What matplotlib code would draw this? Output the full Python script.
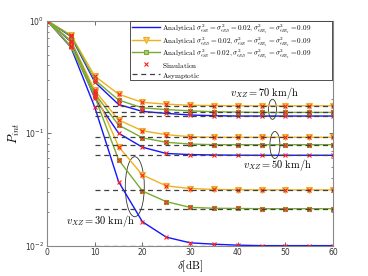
import matplotlib
matplotlib.use("Agg")
import matplotlib.pyplot as plt
from matplotlib.patches import Ellipse, Rectangle
from matplotlib.transforms import ScaledTranslation
import numpy as np

plt.rcParams['mathtext.fontset'] = 'cm'
plt.rcParams['font.family'] = ['DejaVu Sans']

delta = [0, 5, 10, 15, 20, 25, 30, 35, 40, 45, 50, 55, 60]

# 70 km/h
blue70 = [1.0, 0.725, 0.285, 0.180, 0.156, 0.150, 0.145, 0.143, 0.142, 0.142, 0.142, 0.142, 0.142]
orange70 = [1.0, 0.745, 0.322, 0.222, 0.188, 0.181, 0.177, 0.176, 0.175, 0.175, 0.175, 0.175, 0.175]
green70 = [1.0, 0.735, 0.298, 0.197, 0.168, 0.162, 0.158, 0.155, 0.154, 0.153, 0.153, 0.153, 0.153]
# 50 km/h
blue50 = [1.0, 0.650, 0.205, 0.100, 0.075, 0.066, 0.0645, 0.064, 0.0637, 0.0636, 0.0636, 0.0636, 0.0636]
orange50 = [1.0, 0.665, 0.240, 0.131, 0.105, 0.097, 0.093, 0.092, 0.092, 0.092, 0.092, 0.092, 0.092]
green50 = [1.0, 0.660, 0.225, 0.118, 0.091, 0.083, 0.080, 0.079, 0.079, 0.079, 0.079, 0.079, 0.079]
# 30 km/h
blue30 = [1.0, 0.580, 0.170, 0.037, 0.0163, 0.0119, 0.0106, 0.0103, 0.0101, 0.0100, 0.0100, 0.0100, 0.0100]
orange30 = [1.0, 0.595, 0.232, 0.076, 0.0425, 0.034, 0.0322, 0.0316, 0.0314, 0.0313, 0.0313, 0.0313, 0.0313]
green30 = [1.0, 0.590, 0.212, 0.058, 0.0306, 0.0246, 0.0219, 0.0215, 0.0214, 0.0213, 0.0213, 0.0213, 0.0213]

asym_x = [10, 60]
asym_levels = [0.175, 0.153, 0.142, 0.092, 0.079, 0.0636, 0.0313, 0.0213, 0.0100]

xticks = [0, 10, 20, 30, 40, 50, 60]
yticks = [0.01, 0.1, 1.0]
yticklabels = [r'$10^{-2}$', r'$10^{-1}$', r'$10^{0}$']

labels = [
    r'$\mathrm{Analytical}\ \sigma^2_{\epsilon_{SR}}=\sigma^2_{\epsilon_{RD}}=0.02,\sigma^2_{\epsilon_{RR_1}}=\sigma^2_{\epsilon_{RR_2}}=0.09$',
    r'$\mathrm{Analytical}\ \sigma^2_{\epsilon_{RD}}=0.02,\sigma^2_{\epsilon_{SR}}=\sigma^2_{\epsilon_{RR_1}}=\sigma^2_{\epsilon_{RR_2}}=0.09$',
    r'$\mathrm{Analytical}\ \sigma^2_{\epsilon_{SR}}=0.02,\sigma^2_{\epsilon_{RD}}=\sigma^2_{\epsilon_{RR_1}}=\sigma^2_{\epsilon_{RR_2}}=0.09$',
    r'$\mathrm{Simulation}$',
    r'$\mathrm{Asymptotic}$',
]

BLUE = '#1414ff'
ORANGE = '#EDB120'
GREEN = '#77AC30'
RED = '#ff2020'
DARK = '#404040'

blue_style = dict(color=BLUE, lw=1.0)
orange_style = dict(color=ORANGE, lw=1.0, marker='v', ms=4, mfc='#f7c964', mec=ORANGE, mew=0.8)
green_style = dict(color=GREEN, lw=1.0, marker='s', ms=3.5, mfc='#b0c880', mec=GREEN, mew=0.8)
sim_style = dict(color=RED, ls='none', marker='x', ms=3.5, mew=0.8)
asym_style = dict(color=DARK, lw=0.9, ls='--', dashes=(4, 3))

fig = plt.figure(figsize=(3.68, 2.76), dpi=100)
ax = fig.add_axes([0.128, 0.110, 0.777, 0.815])

for ys in [blue70, blue50, blue30]:
    ax.plot(delta, ys, **blue_style)
for ys in [orange70, orange50, orange30]:
    ax.plot(delta, ys, **orange_style)
for ys in [green70, green50, green30]:
    ax.plot(delta, ys, **green_style)
for ys in [blue70, orange70, green70, blue50, orange50, green50, blue30, orange30, green30]:
    ax.plot(delta, ys, **sim_style)
for lv in asym_levels:
    ax.plot(asym_x, [lv, lv], **asym_style)

ax.set_yscale('log')
ax.set_xlim(0, 60)
ax.set_ylim(0.01, 1.0)
ax.set_xticks(xticks)
ax.set_xticklabels([str(t) for t in xticks])
ax.set_yticks(yticks)
ax.set_yticklabels(yticklabels, math_fontfamily='dejavusans')
ax.tick_params(which='both', direction='in', top=True, right=True, labelsize=5.5,
               color='#555555', labelcolor='#333333', pad=2)
ax.tick_params(which='major', length=3, width=0.6)
ax.tick_params(which='minor', length=1.5, width=0.5)
for s in ax.spines.values():
    s.set_color('#888888')
    s.set_linewidth(0.8)

ax.set_xlabel(r'$\delta[\mathrm{dB}]$', fontsize=8, labelpad=1)
ax.set_ylabel(r'$P_{int}$', fontsize=9, labelpad=2)

# annotations
def ell(xc, yc, w, h):
    tr = fig.dpi_scale_trans + ScaledTranslation(xc, yc, ax.transData)
    e = Ellipse((0, 0), w / 100, h / 100, transform=tr, fill=False, color='#333333', lw=0.6)
    ax.add_patch(e)

ell(47.3, 0.163, 8, 20)
ell(47.8, 0.0785, 10, 27)
ell(18.4, 0.0334, 19, 60)

ax.text(45.5, 0.228, r'$v_{XZ}=70\ \mathrm{km/h}$', fontsize=7.5, ha='center', va='center')
ax.text(48.4, 0.052, r'$v_{XZ}=50\ \mathrm{km/h}$', fontsize=7.5, ha='center', va='center')
ax.text(11.1, 0.0164, r'$v_{XZ}=30\ \mathrm{km/h}$', fontsize=7.5, ha='center', va='center')

# legend (compact, laid out in axes fraction)
T = ax.transAxes
lx0, lx1, ly0, ly1 = 0.289, 0.997, 0.737, 0.997
ax.add_patch(Rectangle((lx0, ly0), lx1 - lx0, ly1 - ly0, transform=T, facecolor='white',
                       edgecolor='#333333', lw=0.6, zorder=10, clip_on=False))
rows_y = [0.972, 0.916, 0.861, 0.806, 0.762]
styles = [blue_style, orange_style, green_style, sim_style, asym_style]
hx0, hx1 = 0.298, 0.395
for yr, st, lab in zip(rows_y, styles, labels):
    if st is sim_style:
        ax.plot([(hx0 + hx1) / 2], [yr], transform=T, zorder=11, clip_on=False, **st)
    elif 'marker' in st:
        s2 = dict(st)
        s2.pop('marker')
        ax.plot([hx0, hx1], [yr, yr], transform=T, zorder=11, clip_on=False, **s2)
        ax.plot([(hx0 + hx1) / 2], [yr], transform=T, zorder=11, clip_on=False, ls='none',
                marker=st['marker'], ms=st['ms'], mfc=st['mfc'], mec=st['mec'], mew=st['mew'])
    else:
        ax.plot([hx0, hx1], [yr, yr], transform=T, zorder=11, clip_on=False, **st)
    ax.text(0.402, yr, lab, transform=T, fontsize=5.2, ha='left', va='center_baseline', zorder=12)

fig.savefig('out.png', dpi=100)
